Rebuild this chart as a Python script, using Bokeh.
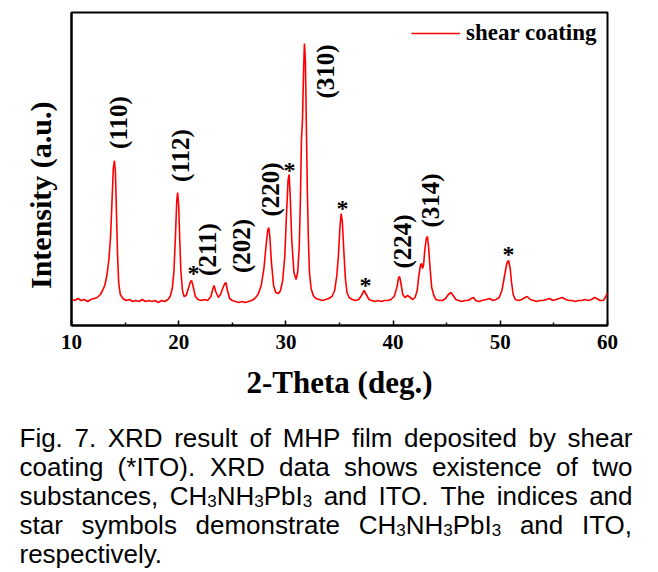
import math
from bokeh.plotting import figure
from bokeh.models import Range1d, FixedTicker, ColumnDataSource
from bokeh.layouts import column
from bokeh.core.properties import value
from bokeh.embed import file_html
from bokeh.resources import INLINE

# ---------------- data ----------------
two_theta = [
    10.0, 10.3, 10.6, 10.9, 11.2, 11.5, 11.8, 12.1, 12.4, 12.7, 12.9, 13.1, 13.3, 13.5, 13.65,
    13.8, 13.9, 14.0, 14.1, 14.2, 14.3, 14.4, 14.55, 14.8, 15.1, 15.4, 15.7, 16.0, 16.3, 16.6,
    16.9, 17.2, 17.5, 17.8, 18.1, 18.4, 18.7, 19.0, 19.2, 19.4, 19.55, 19.7, 19.82, 19.9, 20.0,
    20.1, 20.2, 20.35, 20.5, 20.7, 20.9, 21.1, 21.2, 21.35, 21.55, 21.8, 22.1, 22.4, 22.7, 23.0,
    23.2, 23.3, 23.45, 23.7, 23.9, 24.1, 24.3, 24.4, 24.55, 24.75, 25.0, 25.3, 25.6, 25.9, 26.2,
    26.5, 26.8, 27.1, 27.4, 27.7, 27.95, 28.15, 28.3, 28.4, 28.5, 28.65, 28.85, 29.05, 29.3, 29.5,
    29.7, 29.9, 30.05, 30.2, 30.3, 30.4, 30.55, 30.75, 30.95, 31.1, 31.25, 31.35, 31.45, 31.55, 31.65,
    31.73, 31.82, 31.9, 32.0, 32.1, 32.2, 32.35, 32.55, 32.8, 33.1, 33.4, 33.7, 34.0, 34.3, 34.55,
    34.75, 34.9, 35.05, 35.16, 35.27, 35.4, 35.55, 35.7, 35.9, 36.2, 36.5, 36.8, 37.05, 37.3, 37.5,
    37.75, 38.0, 38.3, 38.6, 38.9, 39.2, 39.5, 39.8, 40.1, 40.35, 40.5, 40.6, 40.72, 40.9, 41.1,
    41.35, 41.6, 41.85, 42.05, 42.25, 42.4, 42.55, 42.65, 42.75, 42.85, 42.95, 43.1, 43.2, 43.3, 43.45,
    43.6, 43.8, 44.0, 44.3, 44.6, 44.9, 45.15, 45.4, 45.6, 45.85, 46.1, 46.4, 46.7, 47.0, 47.3,
    47.5, 47.7, 48.0, 48.3, 48.7, 49.0, 49.3, 49.6, 49.9, 50.15, 50.4, 50.6, 50.77, 50.92, 51.05,
    51.2, 51.4, 51.7, 52.0, 52.3, 52.5, 52.8, 53.1, 53.4, 53.7, 54.0, 54.3, 54.6, 54.9, 55.2,
    55.5, 55.8, 56.1, 56.4, 56.7, 57.0, 57.3, 57.6, 57.9, 58.2, 58.5, 58.8, 59.0, 59.3, 59.6,
    59.8, 60.0,
]
intensity = [
    260, 250, 270, 250, 260, 240, 260, 270, 280, 310, 350, 400, 500, 670, 900,
    1300, 1570, 1650, 1530, 1100, 700, 430, 310, 270, 250, 260, 240, 250, 240, 260,
    240, 250, 240, 250, 230, 250, 240, 260, 290, 370, 530, 900, 1250, 1330, 1200,
    850, 550, 350, 290, 300, 370, 440, 450, 390, 290, 260, 250, 260, 250, 290,
    370, 400, 340, 280, 310, 370, 420, 430, 350, 270, 250, 240, 230, 240, 230,
    240, 250, 270, 310, 400, 570, 800, 950, 980, 890, 630, 400, 330, 320, 350,
    450, 700, 1100, 1450, 1510, 1300, 850, 530, 460, 530, 800, 1250, 1850, 2070, 2550,
    2820, 2650, 2050, 1350, 850, 530, 370, 300, 270, 260, 250, 260, 270, 290, 350,
    500, 700, 1000, 1120, 1030, 750, 470, 330, 280, 260, 250, 260, 300, 350, 310,
    260, 250, 240, 250, 240, 250, 250, 260, 290, 380, 470, 490, 430, 310, 280,
    300, 280, 260, 280, 350, 500, 600, 620, 570, 610, 750, 870, 890, 800, 570,
    380, 300, 260, 250, 250, 270, 310, 330, 300, 260, 250, 240, 250, 250, 270,
    280, 250, 240, 250, 260, 270, 250, 260, 280, 350, 500, 620, 650, 570, 430,
    310, 260, 250, 260, 280, 290, 260, 250, 240, 250, 250, 260, 270, 250, 260,
    270, 280, 260, 250, 250, 240, 250, 250, 260, 250, 260, 280, 270, 250, 250,
    280, 330,
]

x_ticks = [10, 20, 30, 40, 50, 60]
x_minor_ticks = [15, 25, 35, 45, 55]

peak_labels = ["(110)", "(112)", "(211)", "(202)", "(220)", "(310)", "(224)", "(314)"]
peak_label_x = [14.38, 20.17, 22.73, 25.9, 28.6, 33.74, 40.88, 43.49]
peak_label_y = [2030, 1700, 760, 795, 1360, 2540, 840, 1250]

ito_x = [21.38, 30.34, 35.28, 37.43, 50.77]
ito_y = [550, 1580, 1200, 430, 740]

series_name = "shear coating"
x_title = "2-Theta (deg.)"
y_title = "Intensity (a.u.)"

caption_lines = [
    "Fig. 7. XRD result of MHP film deposited by shear",
    "coating (*ITO). XRD data shows existence of two",
    "substances, CH\u2083NH\u2083PbI\u2083 and ITO. The indices and",
    "star symbols demonstrate CH\u2083NH\u2083PbI\u2083 and ITO,",
    "respectively.",
]

# ---------------- styles ----------------
SERIF = "Liberation Serif"
SANS = "Liberation Sans"
RED = "#ff0000"
FIG1_H = 415
FIG_W = 652
TOTAL_H = 570

p = figure(
    frame_width=536, frame_height=313,
    x_range=Range1d(10, 60), y_range=Range1d(0, 3130),
    output_backend="svg", toolbar_location=None, title_location=None,
    min_border_left=71, min_border_right=FIG_W - 71 - 536, min_border_top=12,
    min_border_bottom=FIG1_H - 12 - 313,
)
try:
    p.frame_align = False
except Exception:
    pass
p.background_fill_color = "white"
p.border_fill_color = "white"
p.grid.visible = False
p.outline_line_color = "black"
p.outline_line_width = 2

p.line(two_theta, intensity, line_color=RED, line_width=1.6, legend_label=series_name)

p.text(x=peak_label_x, y=peak_label_y, text=peak_labels, angle=math.pi / 2,
       text_font=value(SERIF), text_font_style="bold", text_font_size="25px",
       text_align="center", text_baseline="middle", text_color="black")
p.text(x=ito_x, y=ito_y, text=["*"] * len(ito_x),
       text_font=value(SERIF), text_font_style="bold", text_font_size="24px",
       text_align="center", text_baseline="middle", text_color="black", y_offset=2)

xa = p.xaxis[0]
xa.ticker = FixedTicker(ticks=x_ticks, minor_ticks=x_minor_ticks)
xa.major_tick_in = 5
xa.major_tick_out = 0
xa.minor_tick_in = 3
xa.minor_tick_out = 0
xa.major_tick_line_width = 1.5
xa.minor_tick_line_width = 1.5
xa.axis_line_width = 2
xa.major_label_text_font = SERIF
xa.major_label_text_font_style = "bold"
xa.major_label_text_font_size = "21px"
xa.major_label_text_color = "black"
xa.major_label_standoff = 9
xa.axis_label = x_title
xa.axis_label_text_font = SERIF
xa.axis_label_text_font_style = "bold"
xa.axis_label_text_font_size = "31px"
xa.axis_label_text_color = "black"
xa.axis_label_standoff = 13

ya = p.yaxis[0]
ya.ticker = FixedTicker(ticks=[])
ya.major_tick_in = 0
ya.major_tick_out = 0
ya.minor_tick_in = 0
ya.minor_tick_out = 0
ya.major_label_standoff = 0
ya.axis_line_width = 2
# trailing no-break spaces shift the centred title down, as in the reference
ya.axis_label = y_title + "\u00a0" * 7
ya.axis_label_text_font = SERIF
ya.axis_label_text_font_style = "bold"
ya.axis_label_text_font_size = "30px"
ya.axis_label_text_color = "black"
ya.axis_label_standoff = 15

lg = p.legend[0]
lg.location = (340, 279)
lg.border_line_color = None
lg.background_fill_alpha = 0
lg.label_text_font = SERIF
lg.label_text_font_style = "bold"
lg.label_text_font_size = "23px"
lg.label_text_color = "black"
lg.glyph_width = 49
lg.label_standoff = 6
lg.padding = 8
lg.margin = 0

# ---------------- caption (justified, placed word by word) ----------------
ARIAL = {" ": 278, ",": 278, ".": 278, "(": 333, ")": 333, "*": 389}
for ch in "0123456789":
    ARIAL[ch] = 556
ARIAL.update(dict(zip("ABCDEFGHIJKLMNOPQRSTUVWXYZ",
                      [667, 667, 722, 722, 667, 611, 778, 722, 278, 500, 667, 556, 833,
                       722, 778, 667, 778, 722, 667, 611, 722, 667, 944, 667, 667, 611])))
ARIAL.update(dict(zip("abcdefghijklmnopqrstuvwxyz",
                      [556, 556, 500, 556, 556, 278, 556, 556, 222, 222, 500, 222, 833,
                       556, 556, 556, 556, 333, 500, 278, 556, 500, 722, 500, 500, 500])))

CAP_SIZE = 26.0
SUB_SIZE = 17.0
SUB_DROP = 5.0
CAP_LEFT = 19.0
CAP_RIGHT = 632.0
CAP_BASE0 = 437.5 - FIG1_H
CAP_LEAD = 29.0
SUBS = {"\u2083": "3"}


def segments(word):
    segs = []
    for ch in word:
        sub = ch in SUBS
        c = SUBS.get(ch, ch)
        if segs and segs[-1][1] == sub:
            segs[-1][0] += c
        else:
            segs.append([c, sub])
    return segs


def seg_width(text, sub):
    size = SUB_SIZE if sub else CAP_SIZE
    return sum(ARIAL.get(c, 556) for c in text) / 1000.0 * size


norm = dict(x=[], y=[], text=[])
subs = dict(x=[], y=[], text=[])
for i, line in enumerate(caption_lines):
    words = line.split(" ")
    wsegs = [segments(w) for w in words]
    widths = [sum(seg_width(t, s) for t, s in ws) for ws in wsegs]
    base = CAP_BASE0 + i * CAP_LEAD
    if i < len(caption_lines) - 1 and len(words) > 1:
        gap = (CAP_RIGHT - CAP_LEFT - sum(widths)) / (len(words) - 1)
    else:
        gap = ARIAL[" "] / 1000.0 * CAP_SIZE
    x = CAP_LEFT
    for ws, w in zip(wsegs, widths):
        xx = x
        for t, s in ws:
            d = subs if s else norm
            d["x"].append(xx)
            d["y"].append(base + (SUB_DROP if s else 0))
            d["text"].append(t)
            xx += seg_width(t, s)
        x += w + gap

CAP_H = TOTAL_H - FIG1_H
p2 = figure(width=FIG_W, height=CAP_H, x_range=Range1d(0, FIG_W), y_range=Range1d(CAP_H, 0),
            output_backend="svg", toolbar_location=None, title_location=None,
            x_axis_location=None, y_axis_location=None, min_border=0)
try:
    p2.frame_align = False
except Exception:
    pass
p2.grid.visible = False
p2.outline_line_color = None
p2.background_fill_color = "white"
p2.border_fill_color = "white"
p2.text(x="x", y="y", text="text", source=ColumnDataSource(norm),
        text_font=value(SANS), text_font_size=f"{CAP_SIZE:g}px",
        text_align="left", text_baseline="alphabetic", text_color="black")
p2.text(x="x", y="y", text="text", source=ColumnDataSource(subs),
        text_font=value(SANS), text_font_size=f"{SUB_SIZE:g}px",
        text_align="left", text_baseline="alphabetic", text_color="black")

layout = column(p, p2, spacing=0)
open("out.html", "w").write(file_html(layout, INLINE, "XRD"))
